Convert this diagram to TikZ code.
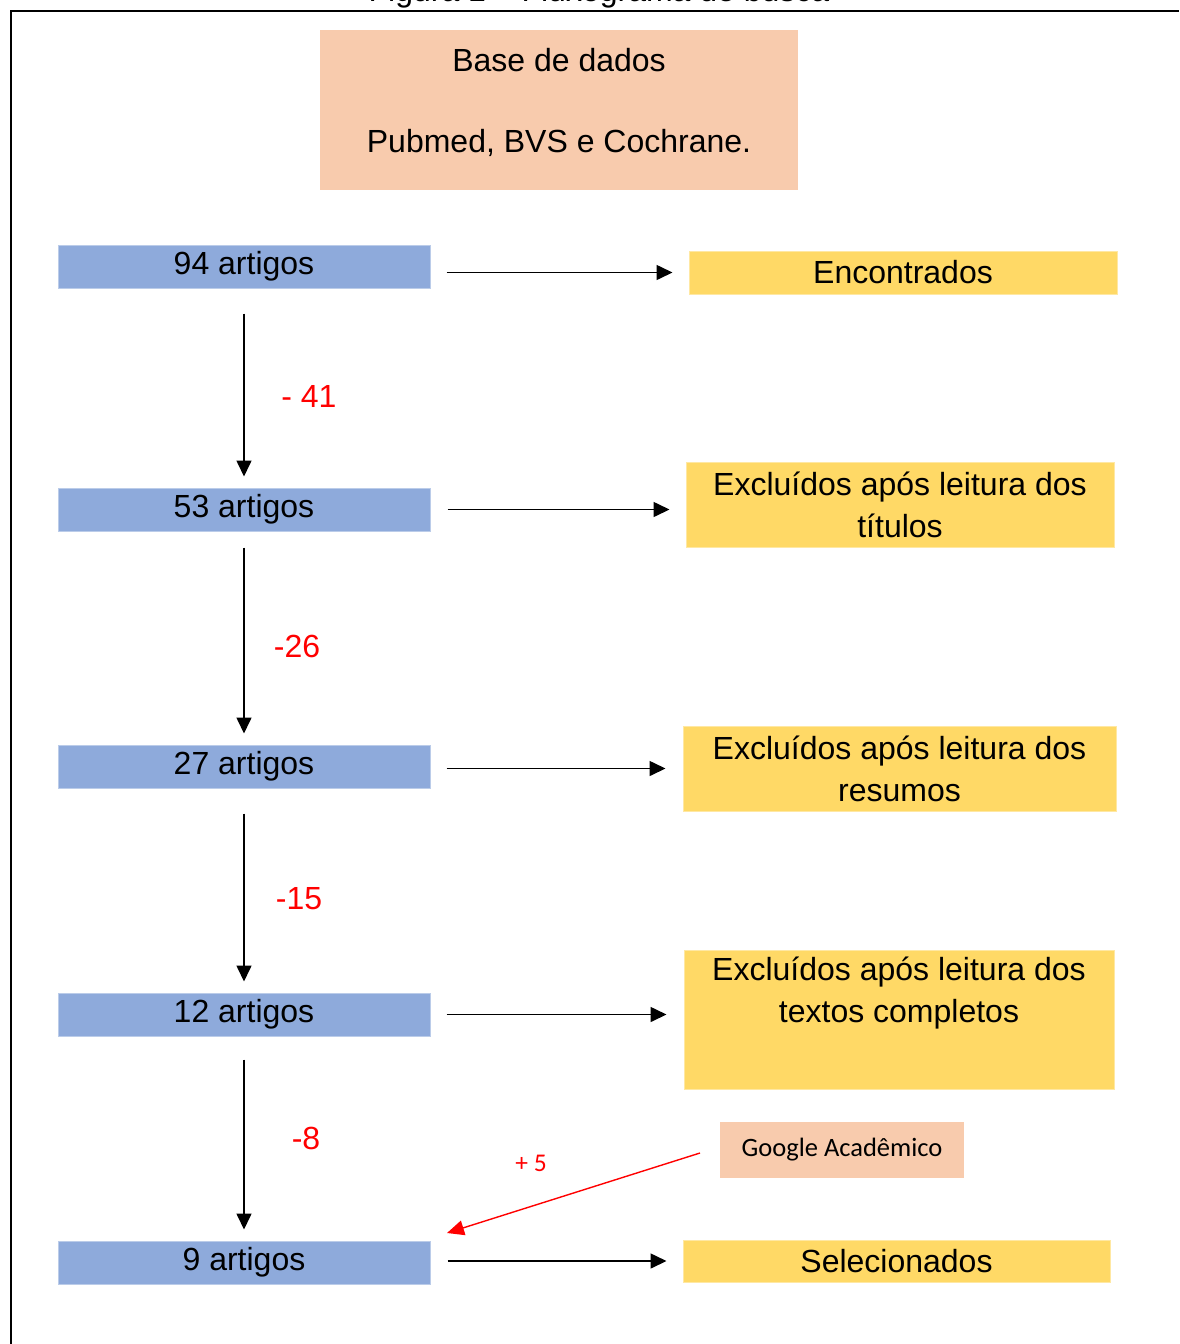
\documentclass[tikz,border=0pt]{standalone}
\usepackage{fontspec}
\setmainfont{Liberation Sans}
\newfontfamily\calib{Carlito}
\usetikzlibrary{arrows.meta}
\definecolor{peach}{HTML}{F8CBAD}
\definecolor{bluebox}{HTML}{8EAADB}
\definecolor{yellowbox}{HTML}{FFD966}
\definecolor{redtxt}{HTML}{FF0000}
\tikzset{
  big/.style={font=\fontsize{32}{40}\selectfont},
  pbox/.style={fill=peach, draw=none, inner sep=0pt},
  bbox/.style={fill=bluebox, draw=bluebox!60!white, line width=1pt, inner sep=0pt, minimum width=372pt, minimum height=43pt, big},
  ybox/.style={fill=yellowbox, draw=yellowbox!60!white, line width=1pt, inner sep=0pt, big, align=center},
  arr/.style={line width=1.6pt, -{Triangle[length=16pt,width=15pt]}},
  redarr/.style={line width=1.4pt, draw=redtxt, -{Triangle[length=17pt,width=15pt]}, color=redtxt},
  redlab/.style={text=redtxt, big},
}
\begin{document}
\begin{tikzpicture}[x=1pt,y=-1pt]
\useasboundingbox (0,0) rectangle (1179,1344);
% frame and title
\coordinate (ftl) at (11,11);
\coordinate (ftr) at (1179,11);
\coordinate (fbl) at (11,1344);
\draw[line width=2pt] (fbl) -- (ftl) -- (ftr);
\node[big, anchor=base] (title) at (599,1) {Figura 1 – Fluxograma de busca};
% source box
\node[pbox, minimum width=478pt, minimum height=160pt] (base) at (559,110) {};
\node[big, align=center] (basetxt) at (559,102) {Base de dados\\[41pt]Pubmed, BVS e Cochrane.};
% blue boxes
\node[bbox] (n94) at (244,266.5) {94 artigos};
\node[bbox] (n53) at (244,509.5) {53 artigos};
\node[bbox] (n27) at (244,766.5) {27 artigos};
\node[bbox] (n12) at (244,1014.5) {12 artigos};
\node[bbox] (n9)  at (244,1262.5) {9 artigos};
% yellow boxes
\node[ybox, minimum width=428pt, minimum height=43pt] (enc) at (903,272.5) {Encontrados};
\node[ybox, minimum width=428pt, minimum height=85pt] (tit) at (900,504.5) {Excluídos após leitura dos\\[2pt]títulos};
\node[ybox, minimum width=433pt, minimum height=85pt] (res) at (899.5,768.5) {Excluídos após leitura dos\\[2pt]resumos};
\node[ybox, minimum width=430pt, minimum height=139pt] (tex) at (899,1019.5) {};
\node[big, align=center] (textxt) at (899,993) {Excluídos após leitura dos\\[2pt]textos completos};
\node[ybox, minimum width=427pt, minimum height=42pt] (sel) at (896.5,1261) {Selecionados};
% google box
\node[pbox, minimum width=244pt, minimum height=56pt, font=\calib\fontsize{26.5}{30}\selectfont] (gsch) at (842,1150) {Google Acadêmico};
% horizontal arrows
\draw[arr, shorten <=16pt, shorten >=16pt] (n94.east |- enc.west) -- (enc.west);
\draw[arr, shorten <=17pt, shorten >=16pt] (n53.east) -- (n53.east -| tit.west);
\draw[arr, shorten <=16pt, shorten >=17pt] (n27.east |- res.west) -- (res.west);
\draw[arr, shorten <=16pt, shorten >=17pt] (n12.east) -- (n12.east -| tex.west);
\draw[arr, shorten <=17pt, shorten >=16pt] (n9.east |- sel.west) -- (sel.west);
% vertical arrows
\draw[arr, shorten <=25pt, shorten >=11pt] (n94.south) -- (n53.north);
\draw[arr, shorten <=16pt, shorten >=11pt] (n53.south) -- (n27.north);
\draw[arr, shorten <=25pt, shorten >=11pt] (n27.south) -- (n12.north);
\draw[arr, shorten <=23pt, shorten >=11pt] (n12.south) -- (n9.north);
% red labels
\node[redlab] (l41) at (309,396) {- 41};
\node[redlab] (l26) at (297,646) {-26};
\node[redlab] (l15) at (299,899) {-15};
\node[redlab] (l8) at (306,1138) {-8};
\node[text=redtxt, font=\calib\fontsize{25.5}{28}\selectfont] (l5) at (531,1163) {+ 5};
% red arrow
\coordinate (redstart) at (700,1153);
\coordinate (redend) at (447,1233);
\draw[redarr] (redstart) -- (redend);
\end{tikzpicture}
\end{document}
